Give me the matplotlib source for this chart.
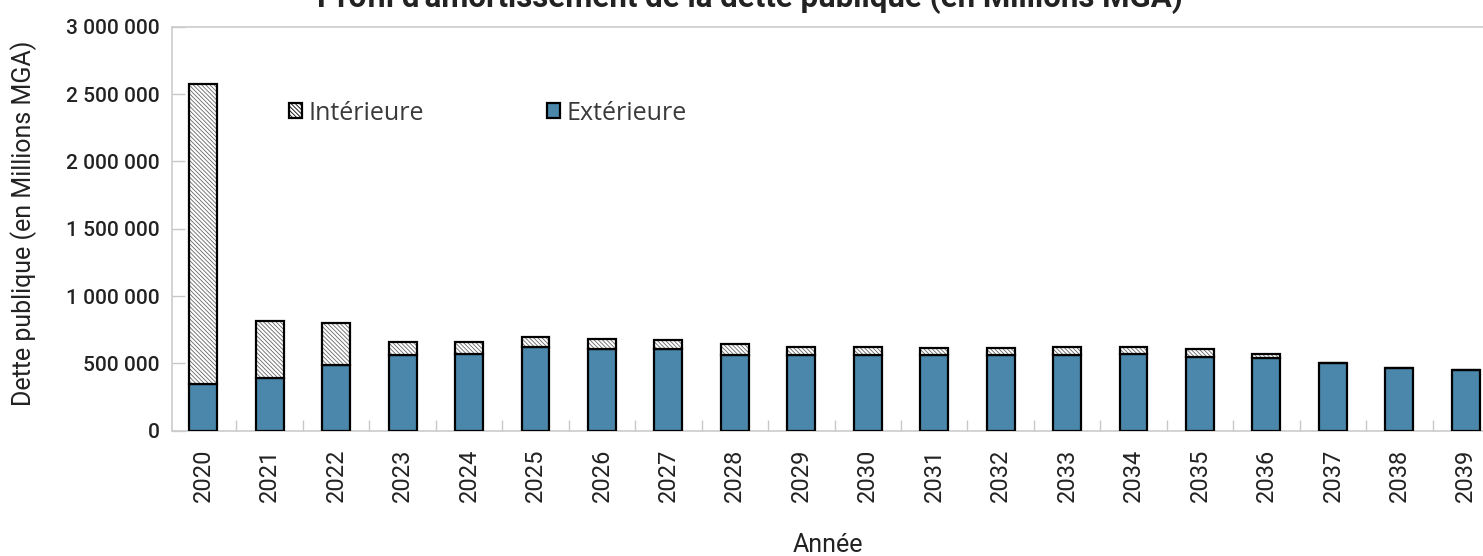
import matplotlib
matplotlib.use("Agg")
import matplotlib.pyplot as plt
from matplotlib.patches import Patch
from matplotlib.ticker import FuncFormatter, MultipleLocator
import numpy as np

years = ["2020", "2021", "2022", "2023", "2024", "2025", "2026", "2027", "2028", "2029",
         "2030", "2031", "2032", "2033", "2034", "2035", "2036", "2037", "2038", "2039"]
exterieure = [343000, 388000, 485000, 561000, 569000, 619000, 606000, 606000, 561000, 561000,
              561000, 561000, 561000, 561000, 569000, 549000, 537000, 504000, 462000, 450000]
totale = [2576000, 816000, 801000, 656000, 656000, 697000, 680000, 673000, 641000, 623000,
          623000, 616000, 616000, 623000, 623000, 604000, 569000, 504000, 462000, 450000]
interieure = [t - e for t, e in zip(totale, exterieure)]

title = "Profil d'amortissement de la dette publique (en Millions MGA)"
ylabel = "Dette publique (en Millions MGA)"
xlabel = "Année"
legend_labels = ["Intérieure", "Extérieure"]

blue = "#4a87ab"
plt.rcParams["hatch.linewidth"] = 0.6
HATCH = "\\\\\\\\\\\\\\\\"

fig = plt.figure(figsize=(14.83, 5.56), dpi=100)
ax = fig.add_axes([172/1483, (556-430.5)/556, (1499-172)/1483, (430.5-27)/556])

x = np.arange(len(years))
w = 0.42
ax.bar(x, exterieure, w, color=blue, edgecolor="black", linewidth=1.6, zorder=3)
ax.bar(x, interieure, w, bottom=exterieure, color="white", edgecolor="#666666",
       hatch=HATCH, linewidth=0, zorder=3)
ax.bar(x, interieure, w, bottom=exterieure, facecolor="none", edgecolor="black",
       linewidth=1.6, zorder=4)

ax.set_xlim(-0.47, 19.5)
ax.set_ylim(0, 3000000)
ax.yaxis.set_major_locator(MultipleLocator(500000))
ax.yaxis.set_major_formatter(FuncFormatter(lambda v, p: f"{int(v):,}".replace(",", " ")))
ax.set_xticks(x)
ax.set_xticklabels(years, rotation=90, fontfamily="Roboto", fontsize=17, color="#222222")
ax.set_xticks(x[:-1] + 0.5, minor=True)
ax.tick_params(axis="x", which="major", length=0, pad=13)
ax.tick_params(axis="x", which="minor", length=8, direction="in", color="#c8c8c8", width=1)
ax.tick_params(axis="y", length=9, direction="in", color="#c8c8c8", width=1, pad=9)
for lab in ax.get_yticklabels():
    lab.set_fontfamily("Roboto")
    lab.set_fontsize(15)
    lab.set_fontweight("medium")
    lab.set_color("#222222")

for s in ["left", "bottom", "top", "right"]:
    ax.spines[s].set_color("#cccccc")
    ax.spines[s].set_linewidth(1.2)

fig.text(24/1483, 1-223/556, ylabel, rotation=90, ha="center", va="center",
         fontfamily="Roboto", fontsize=18, color="#222222")
fig.text(828/1483, 1-545/556, xlabel, ha="center", va="center",
         fontfamily="Roboto", fontsize=18, color="#222222")
fig.text(750/1483, 1-7/556, title, ha="center", va="baseline",
         fontfamily="Roboto", fontweight="bold", fontsize=22.5, color="#222222")

handles = [Patch(facecolor="white", edgecolor="black", hatch=HATCH, linewidth=1.6),
           Patch(facecolor=blue, edgecolor="black", linewidth=1.6)]
leg = fig.legend(handles, legend_labels, loc="center left", bbox_to_anchor=(266/1483, 1-113/556),
                 ncol=2, frameon=False, handlelength=0.55, handleheight=0.55, handletextpad=0.25,
                 columnspacing=4.9, prop={"family": "Open Sans", "size": 18})
for t in leg.get_texts():
    t.set_color("#3a3a3a")

fig.savefig("out.png", dpi=100)
